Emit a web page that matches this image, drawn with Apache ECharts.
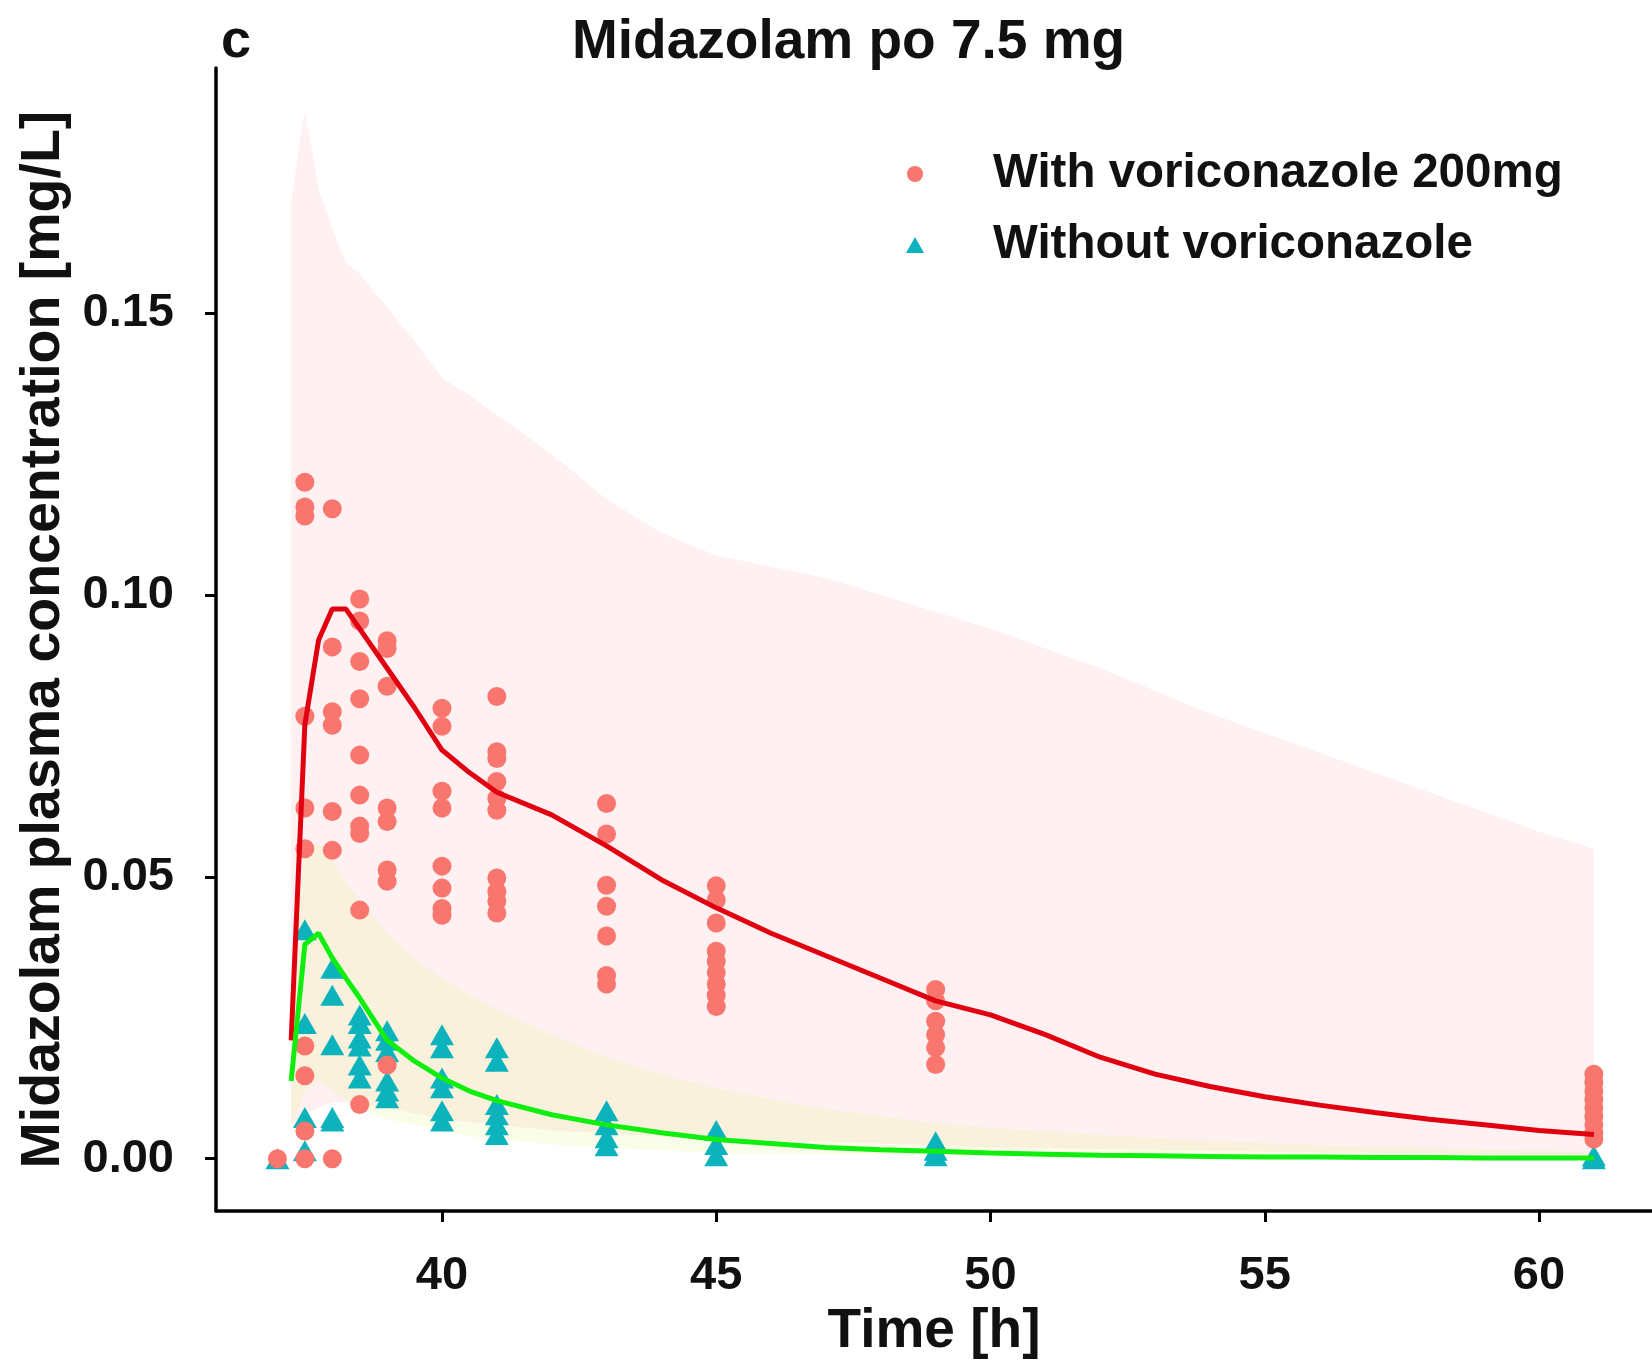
<!DOCTYPE html>
<html>
<head>
<meta charset="utf-8">
<script src="https://cdn.jsdelivr.net/npm/echarts@6/dist/echarts.min.js"></script>
<style>
html,body{margin:0;padding:0;background:#fff;}
#chart{width:1652px;height:1364px;}
</style>
</head>
<body>
<div id="chart"></div>
<script>
// ---- Data ----
const xTicks = [40, 45, 50, 55, 60];
const yTicks = [0, 0.05, 0.10, 0.15];

// Observed: with voriconazole 200mg (circles)
const withTimes = [37, 37.5, 38, 38.5, 39, 40, 41, 43, 45, 49, 61];
const withConc = [
  [0],
  [0.120, 0.1156, 0.114, 0.0785, 0.0622, 0.055, 0.020, 0.0147, 0.0049, 0],
  [0.1153, 0.0908, 0.0793, 0.0769, 0.0616, 0.0547, 0],
  [0.0993, 0.0954, 0.0882, 0.0816, 0.0716, 0.0645, 0.059, 0.0577, 0.0441, 0.0096],
  [0.0919, 0.0905, 0.0838, 0.0622, 0.0598, 0.0512, 0.0492, 0.0166],
  [0.0799, 0.0767, 0.0652, 0.0622, 0.0519, 0.048, 0.0444, 0.0432],
  [0.082, 0.0722, 0.071, 0.0669, 0.0639, 0.0618, 0.0498, 0.0474, 0.0457, 0.0436],
  [0.063, 0.0576, 0.0485, 0.0448, 0.0395, 0.0325, 0.031],
  [0.0484, 0.0459, 0.0418, 0.0368, 0.035, 0.033, 0.031, 0.029, 0.027],
  [0.030, 0.028, 0.0244, 0.022, 0.0197, 0.0167],
  [0.015, 0.0135, 0.012, 0.0105, 0.009, 0.0075, 0.006, 0.0045, 0.0035]
];

// Observed: without voriconazole (triangles)
const withoutTimes = [37, 37.5, 38, 38.5, 39, 40, 41, 43, 45, 49, 61];
const withoutConc = [
  [0],
  [0.0406, 0.024, 0.0073, 0.0014],
  [0.0338, 0.029, 0.0202, 0.0073, 0.0067],
  [0.0255, 0.024, 0.0214, 0.020, 0.0166, 0.0143],
  [0.0227, 0.021, 0.019, 0.0138, 0.012, 0.0108],
  [0.022, 0.0197, 0.0143, 0.0126, 0.0085, 0.0067],
  [0.0197, 0.0173, 0.0096, 0.0078, 0.006, 0.0043],
  [0.0085, 0.006, 0.0037, 0.0023],
  [0.005, 0.0025, 0.0005],
  [0.003, 0.0015, 0.0005],
  [0.0005, 0]
];

// Predicted median curves
const predTimes = [37.25, 37.5, 37.75, 38, 38.25, 38.5, 39, 39.5, 40, 40.5, 41, 42, 43, 44, 45, 46, 47, 48, 49, 50, 51, 52, 53, 54, 55, 56, 57, 58, 59, 60, 61];
const withMedian = [0.021, 0.077, 0.092, 0.0975, 0.0975, 0.094, 0.087, 0.080, 0.0725, 0.0685, 0.065, 0.061, 0.0555, 0.0495, 0.0445, 0.040, 0.036, 0.032, 0.028, 0.0255, 0.022, 0.018, 0.015, 0.0128, 0.011, 0.0095, 0.0082, 0.007, 0.006, 0.005, 0.0043];
const withoutMedian = [0.0138, 0.038, 0.040, 0.0356, 0.032, 0.0285, 0.021, 0.0173, 0.0143, 0.012, 0.0103, 0.0078, 0.006, 0.0046, 0.0034, 0.0027, 0.002, 0.0016, 0.0013, 0.001, 0.0008, 0.0006, 0.0005, 0.0004, 0.0003, 0.0003, 0.0002, 0.0002, 0.0001, 0.0001, 0.0001];

// Prediction intervals
const bandTimes = [37.25, 37.5, 37.75, 38, 38.25, 38.5, 39, 39.5, 40, 40.5, 41, 42, 43, 44, 45, 46, 47, 48, 49, 50, 52, 54, 56, 58, 60, 61];
const withUpper = [0.170, 0.186, 0.172, 0.165, 0.159, 0.157, 0.151, 0.145, 0.1385, 0.1355, 0.132, 0.125, 0.117, 0.111, 0.107, 0.105, 0.103, 0.100, 0.097, 0.094, 0.087, 0.079, 0.072, 0.065, 0.058, 0.055];
const withLower = [0.006, 0.008, 0.009, 0.010, 0.010, 0.0095, 0.009, 0.008, 0.007, 0.0065, 0.006, 0.005, 0.0045, 0.004, 0.0035, 0.0032, 0.003, 0.0027, 0.0024, 0.002, 0.0017, 0.0014, 0.0011, 0.0009, 0.0007, 0.0006];
const withoutUpper = [0.030, 0.055, 0.056, 0.053, 0.049, 0.046, 0.040, 0.0355, 0.032, 0.029, 0.0265, 0.022, 0.018, 0.015, 0.0125, 0.0105, 0.0088, 0.0075, 0.0063, 0.0055, 0.0042, 0.0032, 0.0024, 0.0018, 0.0014, 0.0012];
const withoutLower = [0.005, 0.012, 0.014, 0.012, 0.0105, 0.009, 0.007, 0.006, 0.005, 0.004, 0.0035, 0.0025, 0.002, 0.0015, 0.001, 0.0009, 0.0008, 0.0007, 0.0006, 0.0005, 0.0004, 0.0003, 0.0002, 0.0002, 0.0001, 0.0001];

const nameWith = 'With voriconazole 200mg';
const nameWithout = 'Without voriconazole';

// ---- Build ----
function flatten(times, conc) {
  const out = [];
  times.forEach((t, i) => conc[i].forEach(v => out.push([t, v])));
  return out;
}
function pairs(times, vals) { return times.map((t, i) => [t, vals[i]]); }

function band(times, lower, upper, color, z) {
  return {
    type: 'custom', z: z, silent: true,
    data: times.map((t, i) => [t, lower[i], upper[i]]),
    encode: { x: 0, y: [1, 2] },
    renderItem: function (params, api) {
      if (params.dataIndex !== 0) return null;
      const pts = [];
      for (let i = 0; i < times.length; i++) pts.push(api.coord([times[i], upper[i]]));
      for (let i = times.length - 1; i >= 0; i--) pts.push(api.coord([times[i], lower[i]]));
      return { type: 'polygon', shape: { points: pts }, style: { fill: color } };
    }
  };
}

const FONT = '"Liberation Sans", Arial, sans-serif';
const chart = echarts.init(document.getElementById('chart'), null, { renderer: 'canvas' });
chart.setOption({
  animation: false,
  backgroundColor: '#ffffff',
  title: [
    { text: 'Midazolam po 7.5 mg', left: 567, top: 10,
      textStyle: { fontFamily: FONT, fontSize: 55, fontWeight: 'bold', color: '#111' } },
    { text: 'c', left: 216, top: 10,
      textStyle: { fontFamily: FONT, fontSize: 54, fontWeight: 'bold', color: '#111' } }
  ],
  legend: {
    orient: 'vertical', left: 901, top: 144,
    itemWidth: 18, itemHeight: 16, itemGap: 21,
    data: [{ name: nameWith, icon: 'circle' }, { name: nameWithout, icon: 'triangle' }],
    textStyle: { fontFamily: FONT, fontSize: 47.5, fontWeight: 'bold', color: '#111', lineHeight: 50, padding: [0, 0, 0, 64] }
  },
  grid: { left: 216, top: 68, width: 1445, height: 1144, containLabel: false },
  xAxis: {
    type: 'value', min: 35.88, max: 62.06,
    name: 'Time [h]', nameLocation: 'middle', nameGap: 90,
    nameTextStyle: { fontFamily: FONT, fontSize: 55, fontWeight: 'bold', color: '#111' },
    axisLine: { show: true, onZero: false, lineStyle: { color: '#000', width: 3.5 } },
    axisTick: { show: true, length: 11, lineStyle: { color: '#000', width: 3 }, customValues: xTicks },
    axisLabel: { customValues: xTicks, margin: 41, fontFamily: FONT, fontSize: 47, fontWeight: 'bold', color: '#111',
      formatter: v => String(v) },
    splitLine: { show: false }
  },
  yAxis: {
    type: 'value', min: -0.0093, max: 0.1935,
    name: 'Midazolam plasma concentration [mg/L]', nameLocation: 'middle', nameGap: 144,
    nameTextStyle: { fontFamily: FONT, fontSize: 55.5, fontWeight: 'bold', color: '#111' },
    axisLine: { show: true, onZero: false, lineStyle: { color: '#000', width: 3.5 } },
    axisTick: { show: true, length: 11, lineStyle: { color: '#000', width: 3 }, customValues: yTicks },
    axisLabel: { customValues: yTicks, margin: 42, fontFamily: FONT, fontSize: 47, fontWeight: 'bold', color: '#111',
      formatter: v => v.toFixed(2) },
    splitLine: { show: false }
  },
  series: [
    band(bandTimes, withLower, withUpper, 'rgba(255,200,205,0.27)', 1),
    band(bandTimes, withoutLower, withoutUpper, 'rgba(230,245,150,0.22)', 2),
    {
      name: nameWithout, type: 'scatter', z: 3,
      symbol: 'triangle', symbolSize: [24, 21],
      itemStyle: { color: '#0DB3BC', opacity: 1 },
      data: flatten(withoutTimes, withoutConc)
    },
    {
      name: nameWith, type: 'scatter', z: 4,
      symbol: 'circle', symbolSize: 19,
      itemStyle: { color: '#F8766D', opacity: 1 },
      data: flatten(withTimes, withConc)
    },
    {
      type: 'line', z: 5, showSymbol: false, symbol: 'none', silent: true,
      lineStyle: { color: '#E00010', width: 5 },
      data: pairs(predTimes, withMedian)
    },
    {
      type: 'line', z: 5, showSymbol: false, symbol: 'none', silent: true,
      lineStyle: { color: '#10EE10', width: 5 },
      data: pairs(predTimes, withoutMedian)
    }
  ]
});
</script>
</body>
</html>
